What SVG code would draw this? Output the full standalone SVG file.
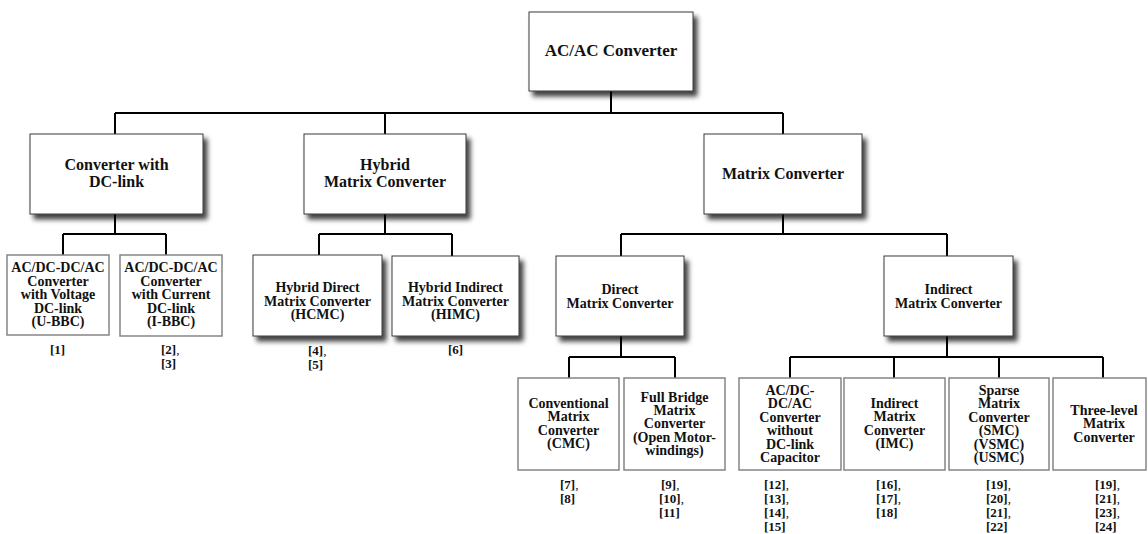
<svg xmlns="http://www.w3.org/2000/svg" width="1148" height="534" viewBox="0 0 1148 534">
  <defs>
    <filter id="drop" x="-10%" y="-10%" width="130%" height="140%">
      <feDropShadow dx="4" dy="5" stdDeviation="2.5" flood-color="#000" flood-opacity="0.75"/>
    </filter>
    <style>
      .bg { fill: #ffffff; }
      .box { fill: #ffffff; stroke: #3a3a3a; stroke-width: 1; filter: url(#drop); }
      .leaf { fill: #ffffff; stroke: #858585; stroke-width: 1.5; }
      .wire { fill: none; stroke: #000000; stroke-width: 2; }
      text { font-family: "Liberation Serif", "Times New Roman", serif; font-weight: bold; fill: #111111; }
      .t17 { font-size: 17px; text-anchor: middle; }
      .t16 { font-size: 16px; text-anchor: middle; }
      .t14 { font-size: 14px; text-anchor: middle; }
      .ref { font-size: 13px; text-anchor: start; }
      .ref .c { font-weight: normal; }
    </style>
  </defs>

  <rect class="bg" x="0" y="0" width="1148" height="534"/>

  <!-- tree connectors -->
  <g id="connectors">
    <path class="wire" d="M611 91 V113 M115 113 H783 M115 113 V134 M385 113 V134 M783 113 V134"/>
    <path class="wire" d="M115 214 V234 M63 234 H166 M63 234 V255 M166 234 V255"/>
    <path class="wire" d="M385 214 V234 M319 234 H452 M319 234 V255 M452 234 V256"/>
    <path class="wire" d="M783 214 V234 M621 234 H947 M621 234 V256 M947 234 V256"/>
    <path class="wire" d="M621 336 V357 M569 357 H675 M569 357 V378 M675 357 V378"/>
    <path class="wire" d="M947 336 V357 M790 357 H1103 M790 357 V378 M894 357 V378 M999 357 V378 M1103 357 V378"/>
  </g>

  <!-- root -->
  <g id="acac">
    <rect class="box" x="529" y="12" width="164" height="79"/>
    <text class="t17" x="611" y="56">AC/AC Converter</text>
  </g>

  <!-- second level -->
  <g id="dclink">
    <rect class="box" x="30" y="134" width="173" height="80"/>
    <text class="t16" x="116.5" y="170">Converter with</text>
    <text class="t16" x="116.5" y="187">DC-link</text>
  </g>
  <g id="hybrid">
    <rect class="box" x="304" y="134" width="162" height="80"/>
    <text class="t16" x="385" y="170">Hybrid</text>
    <text class="t16" x="385" y="187">Matrix Converter</text>
  </g>
  <g id="matrix">
    <rect class="box" x="704" y="134" width="158" height="80"/>
    <text class="t16" x="783" y="179">Matrix Converter</text>
  </g>

  <!-- DC-link converters -->
  <g id="ubbc">
    <rect class="leaf" x="7" y="255" width="102" height="80"/>
    <text class="t14" x="58" y="272">AC/DC-DC/AC</text>
    <text class="t14" x="58" y="285.6">Converter</text>
    <text class="t14" x="58" y="299.2">with Voltage</text>
    <text class="t14" x="58" y="312.8">DC-link</text>
    <text class="t14" x="58" y="326.4">(U-BBC)</text>
    <text class="ref" x="50" y="354">[1]</text>
  </g>
  <g id="ibbc">
    <rect class="leaf" x="120" y="255" width="102" height="81"/>
    <text class="t14" x="171" y="272">AC/DC-DC/AC</text>
    <text class="t14" x="171" y="285.6">Converter</text>
    <text class="t14" x="171" y="299.2">with Current</text>
    <text class="t14" x="171" y="312.8">DC-link</text>
    <text class="t14" x="171" y="326.4">(I-BBC)</text>
    <text class="ref" x="161" y="354">[2]<tspan class="c">,</tspan></text>
    <text class="ref" x="161" y="368">[3]</text>
  </g>

  <!-- hybrid converters -->
  <g id="hcmc">
    <rect class="box" x="253" y="255" width="129" height="81"/>
    <text class="t14" x="317.5" y="292">Hybrid Direct</text>
    <text class="t14" x="317.5" y="305.5">Matrix Converter</text>
    <text class="t14" x="317.5" y="319">(HCMC)</text>
    <text class="ref" x="308" y="355">[4]<tspan class="c">,</tspan></text>
    <text class="ref" x="308" y="369">[5]</text>
  </g>
  <g id="himc">
    <rect class="box" x="392" y="256" width="127" height="80"/>
    <text class="t14" x="455.5" y="292">Hybrid Indirect</text>
    <text class="t14" x="455.5" y="305.5">Matrix Converter</text>
    <text class="t14" x="455.5" y="319">(HIMC)</text>
    <text class="ref" x="448" y="354">[6]</text>
  </g>

  <!-- matrix converter branches -->
  <g id="direct">
    <rect class="box" x="556" y="256" width="128" height="80"/>
    <text class="t14" x="620" y="294">Direct</text>
    <text class="t14" x="620" y="308">Matrix Converter</text>
  </g>
  <g id="indirect">
    <rect class="box" x="884" y="256" width="129" height="80"/>
    <text class="t14" x="948.5" y="294">Indirect</text>
    <text class="t14" x="948.5" y="308">Matrix Converter</text>
  </g>

  <!-- direct topologies -->
  <g id="cmc">
    <rect class="leaf" x="518" y="378" width="101" height="92"/>
    <text class="t14" x="568.5" y="408">Conventional</text>
    <text class="t14" x="568.5" y="421.4">Matrix</text>
    <text class="t14" x="568.5" y="434.8">Converter</text>
    <text class="t14" x="568.5" y="448.2">(CMC)</text>
    <text class="ref" x="560" y="489">[7]<tspan class="c">,</tspan></text>
    <text class="ref" x="560" y="503">[8]</text>
  </g>
  <g id="fullbridge">
    <rect class="leaf" x="624" y="378" width="101" height="92"/>
    <text class="t14" x="674.5" y="401.5">Full Bridge</text>
    <text class="t14" x="674.5" y="414.9">Matrix</text>
    <text class="t14" x="674.5" y="428.3">Converter</text>
    <text class="t14" x="674.5" y="441.7">(Open Motor-</text>
    <text class="t14" x="674.5" y="455.1">windings)</text>
    <text class="ref" x="661" y="489">[9]<tspan class="c">,</tspan></text>
    <text class="ref" x="659" y="503">[10]<tspan class="c">,</tspan></text>
    <text class="ref" x="659" y="517">[11]</text>
  </g>

  <!-- indirect topologies -->
  <g id="nocap">
    <rect class="leaf" x="739" y="378" width="102" height="92"/>
    <text class="t14" x="790" y="395">AC/DC-</text>
    <text class="t14" x="790" y="408.4">DC/AC</text>
    <text class="t14" x="790" y="421.8">Converter</text>
    <text class="t14" x="790" y="435.2">without</text>
    <text class="t14" x="790" y="448.6">DC-link</text>
    <text class="t14" x="790" y="462">Capacitor</text>
    <text class="ref" x="764" y="489">[12]<tspan class="c">,</tspan></text>
    <text class="ref" x="764" y="503">[13]<tspan class="c">,</tspan></text>
    <text class="ref" x="764" y="517">[14]<tspan class="c">,</tspan></text>
    <text class="ref" x="764" y="531">[15]</text>
  </g>
  <g id="imc">
    <rect class="leaf" x="844" y="378" width="101" height="92"/>
    <text class="t14" x="894.5" y="408">Indirect</text>
    <text class="t14" x="894.5" y="421.4">Matrix</text>
    <text class="t14" x="894.5" y="434.8">Converter</text>
    <text class="t14" x="894.5" y="448.2">(IMC)</text>
    <text class="ref" x="876" y="489">[16]<tspan class="c">,</tspan></text>
    <text class="ref" x="876" y="503">[17]<tspan class="c">,</tspan></text>
    <text class="ref" x="876" y="517">[18]</text>
  </g>
  <g id="smc">
    <rect class="leaf" x="949" y="378" width="100" height="92"/>
    <text class="t14" x="999" y="395">Sparse</text>
    <text class="t14" x="999" y="408.4">Matrix</text>
    <text class="t14" x="999" y="421.8">Converter</text>
    <text class="t14" x="999" y="435.2">(SMC)</text>
    <text class="t14" x="999" y="448.6">(VSMC)</text>
    <text class="t14" x="999" y="462">(USMC)</text>
    <text class="ref" x="986" y="489">[19]<tspan class="c">,</tspan></text>
    <text class="ref" x="986" y="503">[20]<tspan class="c">,</tspan></text>
    <text class="ref" x="986" y="517">[21]<tspan class="c">,</tspan></text>
    <text class="ref" x="986" y="531">[22]</text>
  </g>
  <g id="threelevel">
    <rect class="leaf" x="1053" y="378" width="93" height="92"/>
    <text class="t14" x="1104" y="415">Three-level</text>
    <text class="t14" x="1104" y="428.4">Matrix</text>
    <text class="t14" x="1104" y="441.8">Converter</text>
    <text class="ref" x="1095" y="489">[19]<tspan class="c">,</tspan></text>
    <text class="ref" x="1095" y="503">[21]<tspan class="c">,</tspan></text>
    <text class="ref" x="1095" y="517">[23]<tspan class="c">,</tspan></text>
    <text class="ref" x="1095" y="531">[24]</text>
  </g>
</svg>
